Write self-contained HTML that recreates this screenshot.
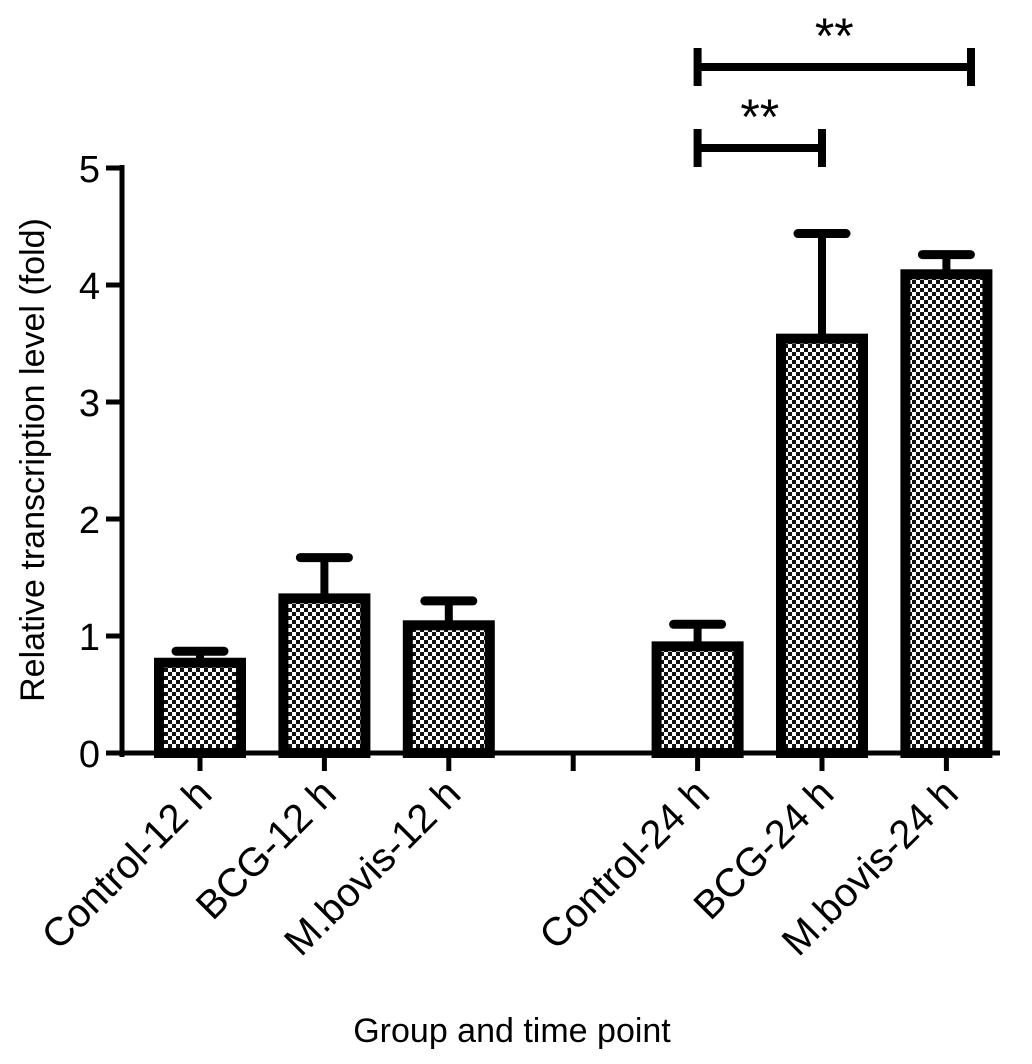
<!DOCTYPE html>
<html><head><meta charset="utf-8"><style>
html,body{margin:0;padding:0;background:#fff;}
svg{display:block;font-family:"Liberation Sans",Arial,sans-serif;}
</style></head><body>
<svg id="chart" width="1032" height="1064" viewBox="0 0 1032 1064">
<defs>
<pattern id="dots" width="8" height="8" patternUnits="userSpaceOnUse">
<rect width="8" height="8" fill="#fff"/>
<rect x="0" y="0" width="4" height="4" fill="#111"/>
<rect x="4" y="4" width="4" height="4" fill="#111"/>
</pattern>
</defs>
<g id="g"></g>
</svg>
<script>
const categories=["Control-12 h","BCG-12 h","M.bovis-12 h","Control-24 h","BCG-24 h","M.bovis-24 h"];
const slots=[0,1,2,4,5,6];
const values=[0.78,1.33,1.1,0.92,3.55,4.1];
const errors=[0.09,0.34,0.2,0.18,0.89,0.16];
const yTicks=[0,1,2,3,4,5];
const NS="http://www.w3.org/2000/svg";
const g=document.getElementById('g');
const y0=753,ppu=117,x0=200,step=124.4;
const y=v=>y0-v*ppu, x=s=>x0+s*step;
function el(t,a,txt){const e=document.createElementNS(NS,t);for(const k in a)e.setAttribute(k,a[k]);if(txt!==undefined)e.textContent=txt;g.appendChild(e);return e;}
values.forEach((v,i)=>{
 const cx=x(slots[i]);
 const eb=el('line',{x1:cx,x2:cx,y1:y(v),y2:y(v+errors[i]),stroke:'#000','stroke-width':8});
 
 
 const cap=el('line',{x1:cx-24,x2:cx+24,y1:y(v+errors[i]),y2:y(v+errors[i]),stroke:'#000','stroke-width':9,'stroke-linecap':'round'});
 
 
 const r=el('rect',{x:cx-41,y:y(v)+1,width:82,height:y0-y(v)-1,fill:'url(#dots)',stroke:'#000','stroke-width':10});
 
 
});
const ya=el('line',{x1:122,x2:122,y1:165,y2:757,stroke:'#000','stroke-width':5});


const xa=el('line',{x1:120,x2:1000,y1:y0,y2:y0,stroke:'#000','stroke-width':5});


yTicks.forEach(t=>{
 el('line',{x1:106,x2:122,y1:y(t),y2:y(t),stroke:'#000','stroke-width':5});
 const tl=el('text',{x:100,y:y(t)+14,'font-size':38,'text-anchor':'end'},t);
 
 
});
[0,1,2,3,4,5,6].forEach(s=>el('line',{x1:x(s),x2:x(s),y1:y0,y2:y0+18,stroke:'#000','stroke-width':5}));
categories.forEach((c,i)=>{
 const cx=x(slots[i])+14;
 const t=el('text',{x:cx,y:796,'font-size':40,'text-anchor':'end',transform:`rotate(-45 ${cx} 796)`},c);
 
 
});
const yt=el('text',{x:0,y:0,'font-size':34,'text-anchor':'middle',transform:'translate(44 460) rotate(-90)'},'Relative transcription level (fold)');


const xt=el('text',{x:512,y:1042,'font-size':34,'text-anchor':'middle'},'Group and time point');


function bracket(xa,xb,yy,half,name){
 const p=el('path',{d:`M${xa} ${yy-half}V${yy+half}M${xa} ${yy}H${xb}M${xb} ${yy-half}V${yy+half}`,stroke:'#000','stroke-width':8,fill:'none'});
 
 
 const s=el('text',{x:(xa+xb)/2,y:yy-14,'font-size':50,'text-anchor':'middle'},'**');
 
 
}
bracket(x(4),x(5),148,19,'significance-bracket-bcg');
bracket(x(4),971,67,19,'significance-bracket-mbovis');
</script>
</body></html>
